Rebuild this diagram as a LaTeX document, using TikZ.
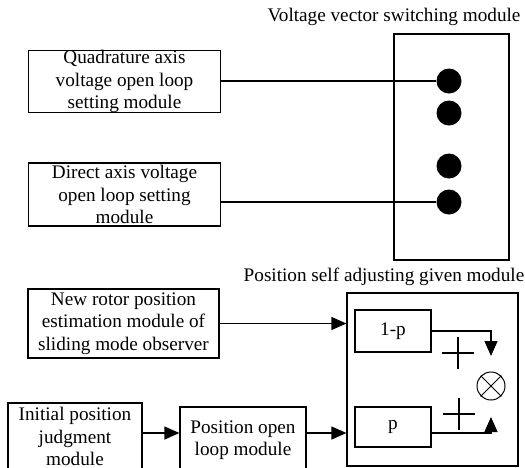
\documentclass[tikz,border=0pt]{standalone}
\usepackage{fontspec}
\setmainfont{Liberation Serif}
\usepackage{tikz}
\usetikzlibrary{arrows.meta, positioning, calc}

\tikzset{
  every node/.style={font=\fontsize{19.2}{22.5}\selectfont},
  box/.style={draw, rectangle, inner sep=0pt, align=center},
  dot/.style={circle, fill=black, inner sep=0pt, minimum size=25pt},
  arr/.style={-{Triangle[length=15pt,width=13pt]}}
}

\begin{document}
\begin{tikzpicture}[x=1pt, y=-1pt, line width=1.2pt]
\useasboundingbox (0,0) rectangle (525,467);
\clip (0,0) rectangle (525,467);

% voltage vector switching module
\node (vvstitle) at (394,17) {Voltage vector switching module};
\node[box, minimum width=115pt, minimum height=226pt] (vvs) at (451.5,147) {};
\foreach \n/\y in {1/81, 2/113, 3/166, 4/202} {
  \node[dot] (s\n) at (449,\y) {};
}
\node[box, minimum width=192pt, minimum height=62pt] (qaxis) at (124.5,81.5)
  {Quadrature axis\\voltage open loop\\setting module};
\node[box, minimum width=192pt, minimum height=63pt] (daxis) at (124.5,194.5)
  {Direct axis voltage\\open loop setting\\module};
\draw (qaxis.east |- s1) -- (s1);
\draw (daxis.east |- s4) -- (s4);

% position self adjusting given module
\node (pstitle) at (384,277) {Position self adjusting given module};
\node[box, minimum width=171pt, minimum height=173pt] (ps) at (432.5,379.5) {};
\node[box, minimum width=76pt, minimum height=42pt] (onep) at (393,331) {1-p};
\node[box, minimum width=76pt, minimum height=40pt] (pbox) at (393,427) {p};
\node[circle, draw, line width=1pt, inner sep=0pt, minimum size=28pt] (mul) at (491,386) {};
\draw[line width=1pt] (mul.north west) -- (mul.south east) (mul.north east) -- (mul.south west);
\coordinate (t1) at (491,356);
\coordinate (t2) at (491,417);
\draw[arr] (onep.east) -| (t1);
\draw[arr] ([yshift=-6pt]pbox.east) -| (t2);
\foreach \cx/\cy in {458/353, 459/414} {
  \draw (\cx-16,\cy) -- (\cx+16,\cy) (\cx,\cy-16) -- (\cx,\cy+16);
}

% inputs
\node[box, minimum width=191pt, minimum height=69pt] (rotor) at (123.5,323.5)
  {New rotor position\\estimation module of\\sliding mode observer};
\node[box, minimum width=134pt, minimum height=67pt] (init) at (75,436.5)
  {Initial position\\judgment\\module};
\node[box, minimum width=126pt, minimum height=66pt] (pol) at (243,440)
  {Position open\\loop module};
\draw[arr] ([yshift=3.5pt]init.east) -- ([yshift=3.5pt]init.east -| pol.west);
\draw[arr] ([yshift=7pt]pol.east) -- ([yshift=7pt]pol.east -| ps.west);
\draw[arr] (rotor.east) -- (rotor.east -| ps.west);
\end{tikzpicture}
\end{document}
